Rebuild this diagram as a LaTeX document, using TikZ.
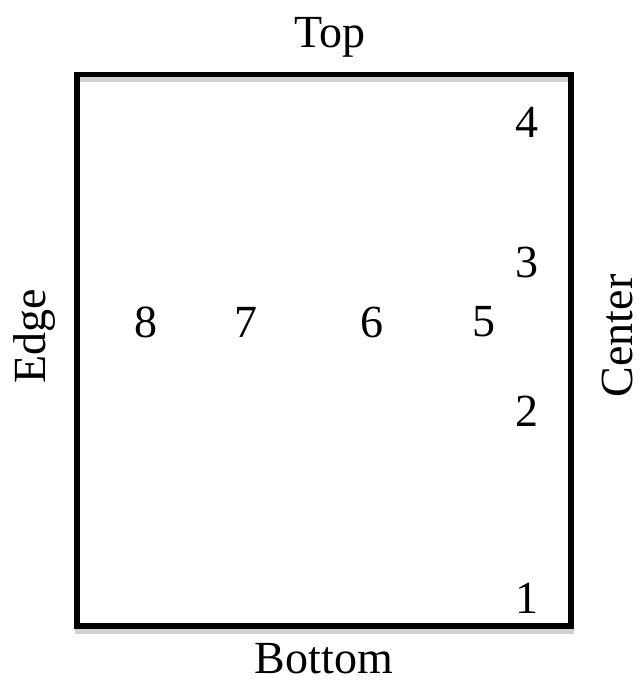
\documentclass[tikz,border=0pt]{standalone}
\usepackage{fontspec}
\setmainfont{Liberation Serif}
\usetikzlibrary{positioning}

\begin{document}
\begin{tikzpicture}[x=1pt,y=-1pt,font=\fontsize{46}{50}\selectfont]
\tikzset{
  rand/.style={line width=5.5pt},
  schatten/.style={draw=black!18,line width=5pt},
  nummer/.style={inner sep=0pt,anchor=center}
}
\useasboundingbox (0,0) rectangle (643,684);
% box with its grey shadow
\draw[schatten] (77,79.5) rectangle (571,631);
\draw[rand] (77,74.5) coordinate (lo) rectangle (571,626) coordinate (ru);
\node[nummer] (oben) at (330,37) {Top};
\node[nummer] (unten) at (324,659) {Bottom};
\node[nummer,rotate=90] (rand) at (35,336) {Edge};
\node[nummer,rotate=90] (mitte) at (617,336) {Center};
\node[nummer] (p4) at (527,122) {4};
\node[nummer] (p3) at (527,262) {3};
\node[nummer] (p2) at (527,411) {2};
\node[nummer] (p1) at (527,598) {1};
\node[nummer] (p8) at (146,322) {8};
\node[nummer] (p7) at (246,322) {7};
\node[nummer] (p6) at (372,322) {6};
\node[nummer] (p5) at (484,322) {5};
\end{tikzpicture}
\end{document}
